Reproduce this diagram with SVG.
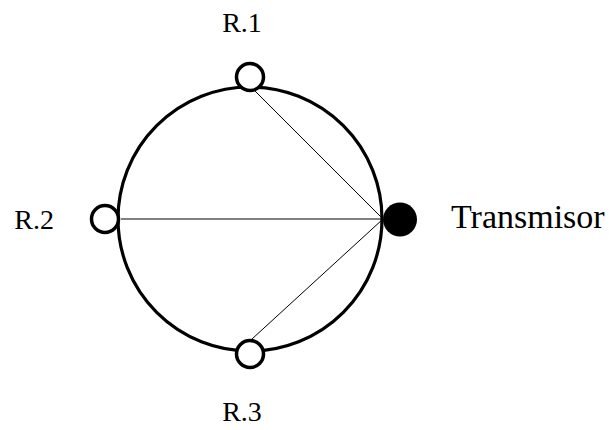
<svg xmlns="http://www.w3.org/2000/svg" width="609" height="430" viewBox="0 0 609 430">
<style>
.lbl{font-family:"Liberation Serif","Times New Roman",serif;fill:#000}
.node{fill:#fff;stroke:#000;stroke-width:3.5}
.ln{stroke:#000;stroke-width:1;fill:none}
</style>
<rect width="609" height="430" fill="#fff"/>
<g id="ring"><circle cx="250" cy="219" r="132" fill="none" stroke="#000" stroke-width="3.2"/></g>
<g id="connectors">
<line class="ln" x1="383" y1="219" x2="252" y2="88"/>
<line class="ln" x1="383" y1="219" x2="121" y2="219"/>
<line class="ln" x1="383" y1="219" x2="252" y2="339"/>
</g>
<g id="r1"><circle class="node" cx="250" cy="77" r="13.5"/><text class="lbl" x="242" y="32" font-size="28" text-anchor="middle">R.1</text></g>
<g id="r2"><circle class="node" cx="105" cy="219" r="13.5"/><text class="lbl" x="54" y="229" font-size="28" text-anchor="end">R.2</text></g>
<g id="r3"><circle class="node" cx="250" cy="354" r="13.5"/><text class="lbl" x="242" y="421" font-size="28" text-anchor="middle">R.3</text></g>
<g id="tx"><circle cx="400" cy="219.5" r="17" fill="#000"/><text class="lbl" x="451" y="228" font-size="34">Transmisor</text></g>
</svg>
